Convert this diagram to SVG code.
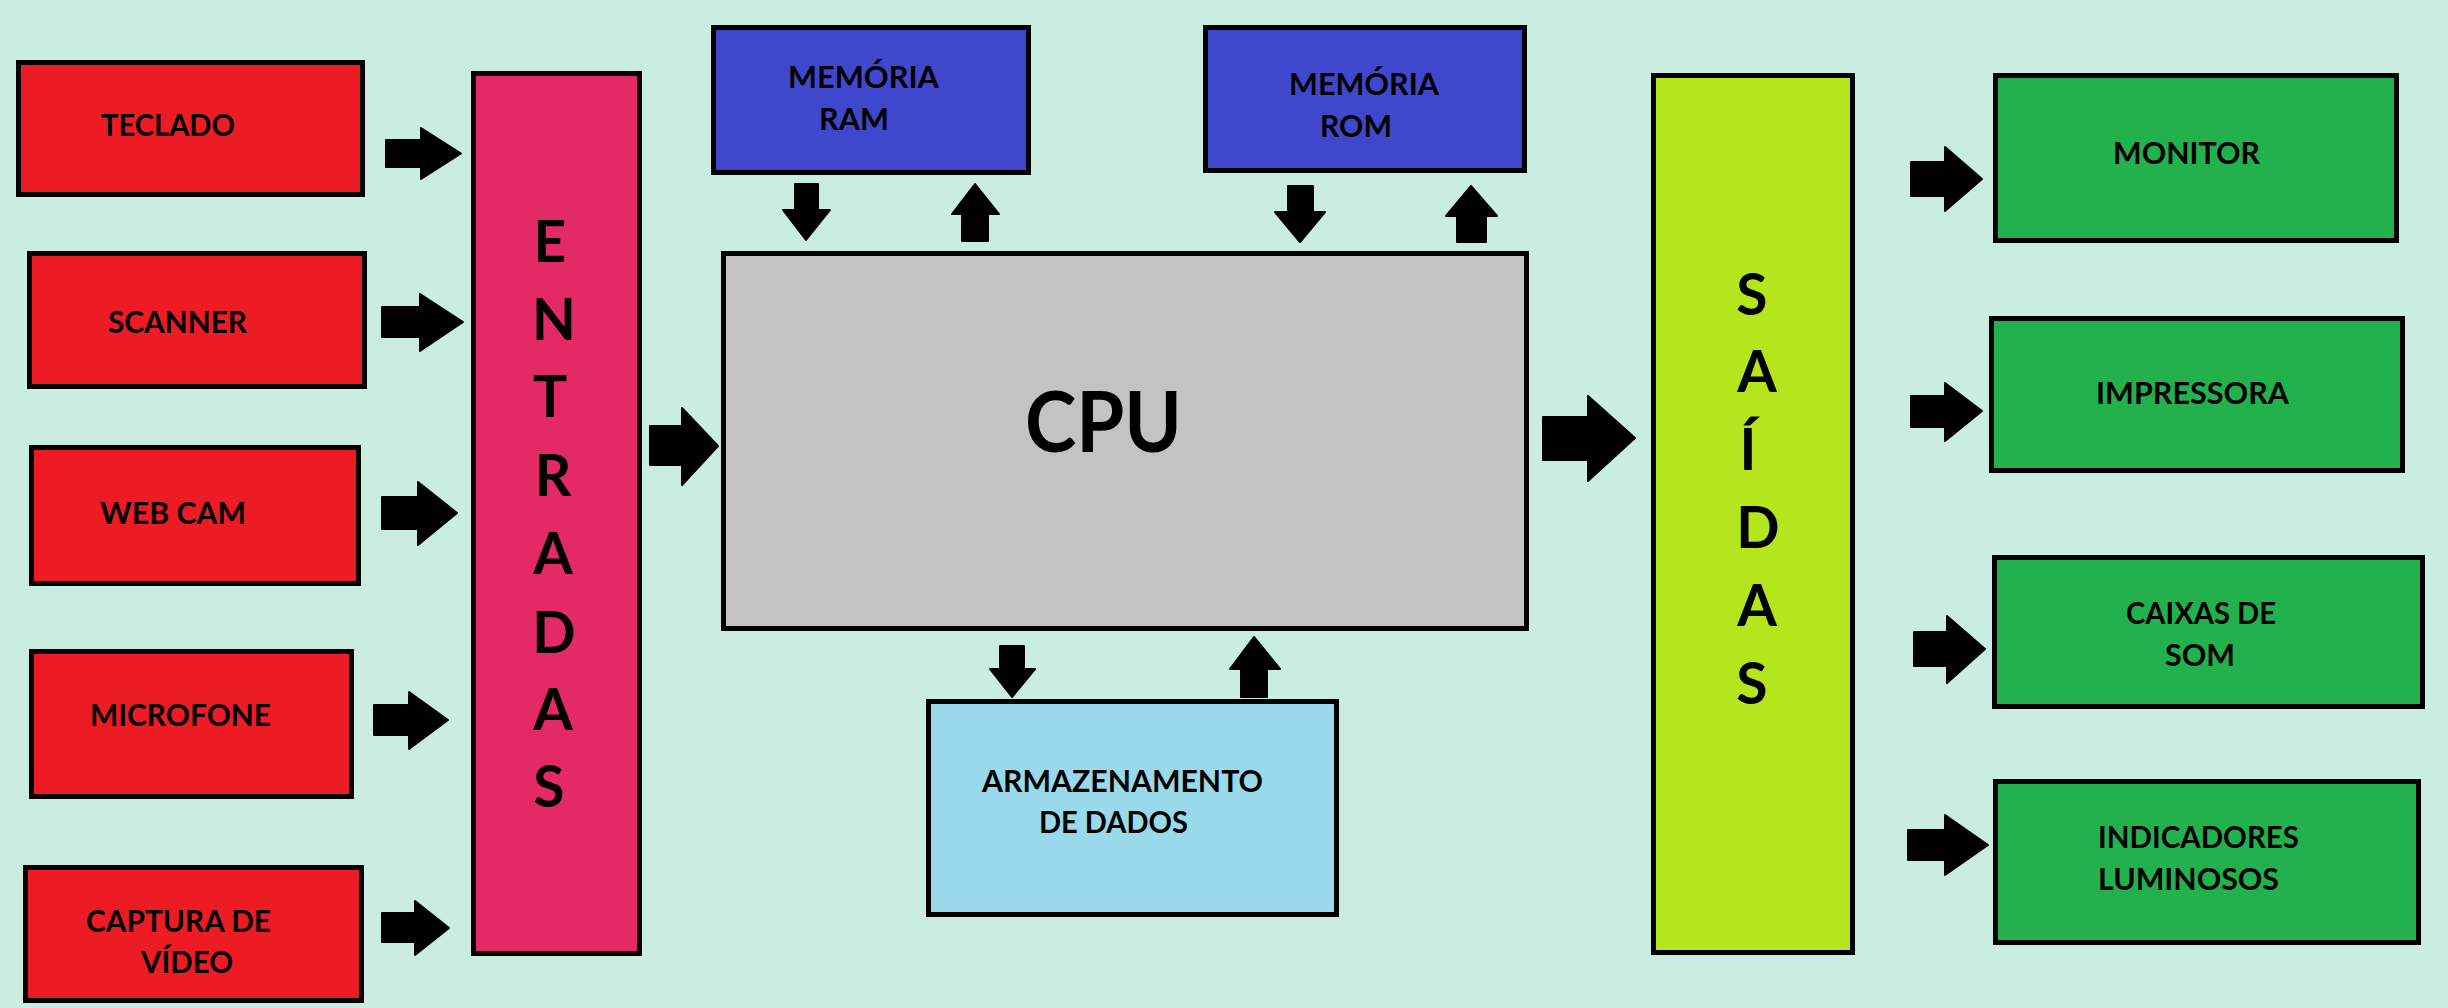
<svg xmlns="http://www.w3.org/2000/svg" width="2448" height="1008" viewBox="0 0 2448 1008">
<style>
.box{stroke:#000;stroke-width:5}
.lbl{font-family:Lato,"Open Sans","Liberation Sans",sans-serif;font-weight:bold;font-size:30px;fill:#000}
.big{font-family:Lato,"Open Sans","Liberation Sans",sans-serif;font-weight:bold;font-size:57px;fill:#000;text-anchor:middle}
.arr{fill:#000;stroke:#000;stroke-width:2;stroke-linejoin:round}
</style>
<rect width="2448" height="1008" fill="#C9EDE1"/>
<g id="teclado"><rect class="box" x="18.5" y="62.5" width="344" height="132" fill="#ED1C24"/><text class="lbl" x="101" y="136" textLength="134" lengthAdjust="spacingAndGlyphs">TECLADO</text></g>
<g id="scanner"><rect class="box" x="29.5" y="253.5" width="335" height="133" fill="#ED1C24"/><text class="lbl" x="108" y="333" textLength="139" lengthAdjust="spacingAndGlyphs">SCANNER</text></g>
<g id="webcam"><rect class="box" x="31.5" y="447.5" width="327" height="136" fill="#ED1C24"/><text class="lbl" x="100" y="524" textLength="146" lengthAdjust="spacingAndGlyphs">WEB CAM</text></g>
<g id="microfone"><rect class="box" x="31.5" y="651.5" width="320" height="145" fill="#ED1C24"/><text class="lbl" x="90" y="726" textLength="181" lengthAdjust="spacingAndGlyphs">MICROFONE</text></g>
<g id="captura"><rect class="box" x="25.5" y="867.5" width="336" height="133" fill="#ED1C24"/><text class="lbl" x="86" y="932" textLength="185" lengthAdjust="spacingAndGlyphs">CAPTURA DE</text><text class="lbl" x="141" y="973" textLength="92" lengthAdjust="spacingAndGlyphs">VÍDEO</text></g>
<g id="entradas"><rect class="box" x="473.5" y="73.5" width="166" height="880" fill="#E32A66"/>
<text class="big" x="550" y="262">E</text><text class="big" x="554" y="340">N</text><text class="big" x="550" y="417">T</text><text class="big" x="553" y="496">R</text><text class="big" x="553" y="574">A</text><text class="big" x="554" y="653">D</text><text class="big" x="553" y="730">A</text><text class="big" x="549" y="807">S</text></g>
<g id="ram"><rect class="box" x="713.5" y="27.5" width="315" height="145" fill="#3F48CC"/><text class="lbl" x="788" y="88" textLength="151" lengthAdjust="spacingAndGlyphs">MEMÓRIA</text><text class="lbl" x="819" y="130" textLength="70" lengthAdjust="spacingAndGlyphs">RAM</text></g>
<g id="rom"><rect class="box" x="1205.5" y="27.5" width="319" height="143" fill="#3F48CC"/><text class="lbl" x="1289" y="95" textLength="150" lengthAdjust="spacingAndGlyphs">MEMÓRIA</text><text class="lbl" x="1320" y="137" textLength="72" lengthAdjust="spacingAndGlyphs">ROM</text></g>
<g id="cpu"><rect class="box" x="723.5" y="253.5" width="803" height="375" fill="#C3C3C3"/><text class="lbl" x="1025" y="452" font-size="85" textLength="157" lengthAdjust="spacingAndGlyphs" style="font-size:85px">CPU</text></g>
<g id="armazenamento"><rect class="box" x="928.5" y="701.5" width="408" height="213" fill="#99D9EA"/><text class="lbl" x="982" y="792" textLength="281" lengthAdjust="spacingAndGlyphs">ARMAZENAMENTO</text><text class="lbl" x="1039" y="833" textLength="149" lengthAdjust="spacingAndGlyphs">DE DADOS</text></g>
<g id="saidas"><rect class="box" x="1653.5" y="75.5" width="199" height="877" fill="#B5E61D"/>
<text class="big" x="1752" y="315">S</text><text class="big" x="1757" y="392">A</text><text class="big" x="1748" y="470">Í</text><text class="big" x="1758" y="548">D</text><text class="big" x="1757" y="626">A</text><text class="big" x="1752" y="704">S</text></g>
<g id="monitor"><rect class="box" x="1995.5" y="75.5" width="401" height="165" fill="#22B14C"/><text class="lbl" x="2113" y="164" textLength="147" lengthAdjust="spacingAndGlyphs">MONITOR</text></g>
<g id="impressora"><rect class="box" x="1991.5" y="318.5" width="411" height="152" fill="#22B14C"/><text class="lbl" x="2096" y="404" textLength="193" lengthAdjust="spacingAndGlyphs">IMPRESSORA</text></g>
<g id="caixas"><rect class="box" x="1994.5" y="557.5" width="428" height="149" fill="#22B14C"/><text class="lbl" x="2126" y="624" textLength="150" lengthAdjust="spacingAndGlyphs">CAIXAS DE</text><text class="lbl" x="2165" y="666" textLength="70" lengthAdjust="spacingAndGlyphs">SOM</text></g>
<g id="indicadores"><rect class="box" x="1995.5" y="781.5" width="423" height="161" fill="#22B14C"/><text class="lbl" x="2098" y="848" textLength="201" lengthAdjust="spacingAndGlyphs">INDICADORES</text><text class="lbl" x="2098" y="890" textLength="181" lengthAdjust="spacingAndGlyphs">LUMINOSOS</text></g>
<g id="connectors">
<polygon class="arr" points="386,140 421,140 421,128 461,153.5 421,179 421,167 386,167"/>
<polygon class="arr" points="382,307 420,307 420,294 463,322 420,351 420,337 382,337"/>
<polygon class="arr" points="382,497 418,497 418,482 457,513 418,545 418,529 382,529"/>
<polygon class="arr" points="374,705 409,705 409,692 448,720 409,749 409,735 374,735"/>
<polygon class="arr" points="382,913 415,913 415,901 449,928 415,955 415,942 382,942"/>
<polygon class="arr" points="650,426 682,426 682,408 718,446 682,485 682,465 650,465"/>
<polygon class="arr" points="1543,417 1588,417 1588,396 1635,438 1588,481 1588,460 1543,460"/>
<polygon class="arr" points="1911,162 1945,162 1945,147 1982,179 1945,211 1945,196 1911,196"/>
<polygon class="arr" points="1911,396 1945,396 1945,383 1982,411 1945,441 1945,427 1911,427"/>
<polygon class="arr" points="1914,632 1947,632 1947,616 1985,649 1947,683 1947,666 1914,666"/>
<polygon class="arr" points="1908,830 1945,830 1945,815 1988,845 1945,875 1945,860 1908,860"/>
<polygon class="arr" points="795,184 818,184 818,210 830,210 806,240 783,210 795,210"/>
<polygon class="arr" points="1288,186 1313,186 1313,212 1325,212 1300,242 1275,212 1288,212"/>
<polygon class="arr" points="1000,646 1024,646 1024,669 1035,669 1012,697 990,669 1000,669"/>
<polygon class="arr" points="975,184 999,214 988,214 988,241 962,241 962,214 952,214"/>
<polygon class="arr" points="1471,186 1497,216 1486,216 1486,242 1457,242 1457,216 1446,216"/>
<polygon class="arr" points="1254,637 1280,669 1267,669 1267,697 1241,697 1241,669 1230,669"/>
</g>
</svg>
